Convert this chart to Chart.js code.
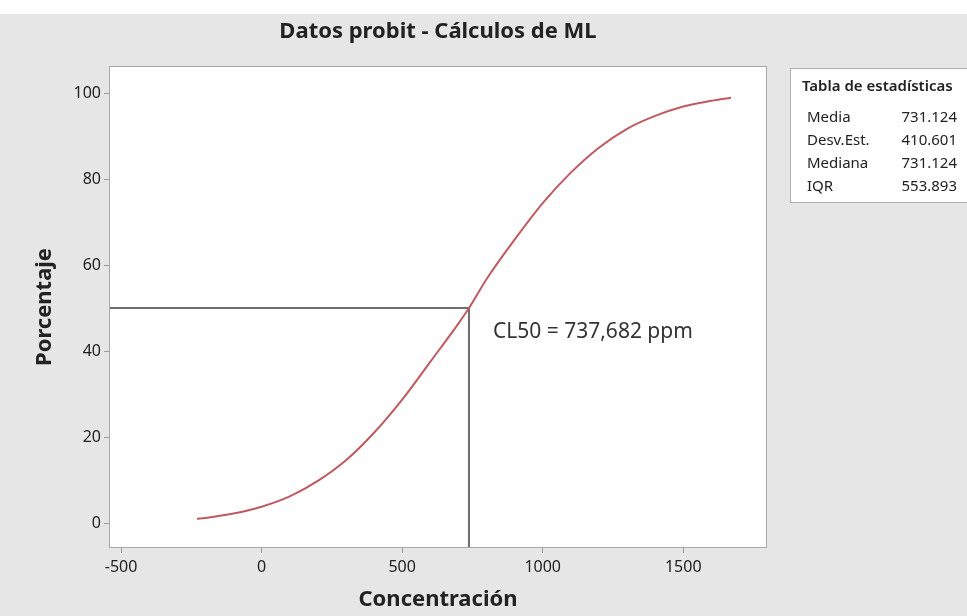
<!DOCTYPE html>
<html>
<head>
<meta charset="utf-8">
<script src="https://cdn.jsdelivr.net/npm/chart.js@4.4.1/dist/chart.umd.min.js"></script>
<style>
  html, body { margin: 0; padding: 0; background: #fff; }
  #wrap { width: 967px; height: 616px; }
</style>
</head>
<body>
<div id="wrap"><canvas id="probit" width="967" height="616"></canvas></div>
<script>
// valores
var concentracion = [-230, -200, -100, 0, 100, 200, 300, 400, 500, 600, 700, 737.682, 800, 900, 1000, 1100, 1200, 1300, 1400, 1500, 1600, 1670];
var porcentaje = [1.0, 1.2, 2.2, 3.8, 6.2, 9.8, 14.6, 21.0, 28.7, 37.5, 46.4, 50, 56.7, 65.9, 74.4, 81.5, 87.3, 91.7, 94.7, 96.9, 98.2, 98.9];
var xTicks = [-500, 0, 500, 1000, 1500];
var yTicks = [0, 20, 40, 60, 80, 100];
var cl50 = 737.682;
var nivel = 50;
var etiquetaCL50 = 'CL50 = 737,682 ppm';
var tablaNombres = ['Media', 'Desv.Est.', 'Mediana', 'IQR'];
var tablaValores = ['731.124', '410.601', '731.124', '553.893'];

var xMin = -543, xMax = 1798, yMin = -5.8, yMax = 106.3;
var fuente = "'Noto Sans', 'Open Sans', sans-serif";

var puntosCurva = concentracion.map(function(c, i) { return {x: c, y: porcentaje[i]}; });
var puntosRef = [{x: xMin, y: nivel}, {x: cl50, y: nivel}, {x: cl50, y: yMin}];

var fondo = {
    id: 'fondo',
    beforeDraw: function(chart) {
        var ctx = chart.ctx, a = chart.chartArea;
        ctx.save();
        ctx.fillStyle = '#fff';
        ctx.fillRect(0, 0, chart.width, chart.height);
        ctx.fillStyle = '#e6e6e6';
        ctx.fillRect(0, 14, chart.width, chart.height - 14);
        ctx.fillStyle = '#fff';
        ctx.fillRect(a.left, a.top, a.right - a.left, a.bottom - a.top);
        ctx.restore();
    },
    afterDraw: function(chart) {
        var ctx = chart.ctx, a = chart.chartArea;
        var xs = chart.scales.x, ys = chart.scales.y;
        ctx.save();
        // marco
        ctx.strokeStyle = '#a8a8a8';
        ctx.lineWidth = 1;
        ctx.strokeRect(a.left + 0.5, a.top + 0.5, a.right - a.left - 1, a.bottom - a.top - 1);
        // titulo
        ctx.fillStyle = '#222';
        ctx.font = 'bold 22px ' + fuente;
        ctx.textAlign = 'center';
        ctx.textBaseline = 'middle';
        ctx.fillText('Datos probit - Cálculos de ML', (a.left + a.right) / 2, 32);
        // etiqueta CL50
        ctx.font = '21px ' + fuente;
        ctx.fillStyle = '#333';
        ctx.textAlign = 'left';
        ctx.fillText(etiquetaCL50, xs.getPixelForValue(cl50) + 24, ys.getPixelForValue(nivel) + 24);
        // tabla de estadisticas
        ctx.fillStyle = '#fff';
        ctx.fillRect(790, 68, 190, 134);
        ctx.strokeStyle = '#b0b0b0';
        ctx.strokeRect(790.5, 68.5, 190, 134);
        ctx.fillStyle = '#222';
        ctx.font = '600 15px ' + fuente;
        ctx.textAlign = 'left';
        ctx.fillText('Tabla de estadísticas', 802, 87);
        ctx.font = '15px ' + fuente;
        for (var i = 0; i < tablaNombres.length; i++) {
            var yy = 118 + i * 23;
            ctx.textAlign = 'left';
            ctx.fillText(tablaNombres[i], 807, yy);
            ctx.textAlign = 'right';
            ctx.fillText(tablaValores[i], 957, yy);
        }
        ctx.restore();
    }
};

new Chart(document.getElementById('probit'), {
    type: 'line',
    data: {
        datasets: [{
            label: 'Curva probit',
            data: puntosCurva,
            borderColor: '#bf5a60',
            borderWidth: 2,
            pointRadius: 0,
            cubicInterpolationMode: 'monotone',
            fill: false
        }, {
            label: 'CL50',
            data: puntosRef,
            borderColor: '#6e6e6e',
            borderWidth: 2,
            pointRadius: 0,
            tension: 0,
            fill: false
        }]
    },
    options: {
        responsive: false,
        animation: false,
        layout: { padding: { top: 66, right: 200, left: 0, bottom: 0 } },
        plugins: { legend: { display: false }, title: { display: false }, tooltip: { enabled: false } },
        scales: {
            x: {
                type: 'linear',
                min: xMin,
                max: xMax,
                afterBuildTicks: function(s) { s.ticks = xTicks.map(function(v) { return {value: v}; }); },
                afterFit: function(s) { s.height = 68; },
                border: { display: false },
                grid: { drawOnChartArea: false, tickLength: 5, color: '#9a9a9a' },
                ticks: { color: '#222', font: { family: fuente, size: 16 }, padding: 5, maxRotation: 0,
                         callback: function(v) { return String(v); } },
                title: { display: true, text: 'Concentración', color: '#222', font: { family: fuente, size: 22, weight: 'bold' }, padding: { top: 0, bottom: 3 } }
            },
            y: {
                type: 'linear',
                min: yMin,
                max: yMax,
                afterBuildTicks: function(s) { s.ticks = yTicks.map(function(v) { return {value: v}; }); },
                afterFit: function(s) { s.width = 109; },
                border: { display: false },
                grid: { drawOnChartArea: false, tickLength: 5, color: '#9a9a9a' },
                ticks: { color: '#222', font: { family: fuente, size: 16 }, padding: 3,
                         callback: function(v) { return String(v); } },
                title: { display: true, text: 'Porcentaje', color: '#222', font: { family: fuente, size: 22, weight: 'bold' }, padding: { top: 32, bottom: 0 } }
            }
        }
    },
    plugins: [fondo]
});
</script>
</body>
</html>
